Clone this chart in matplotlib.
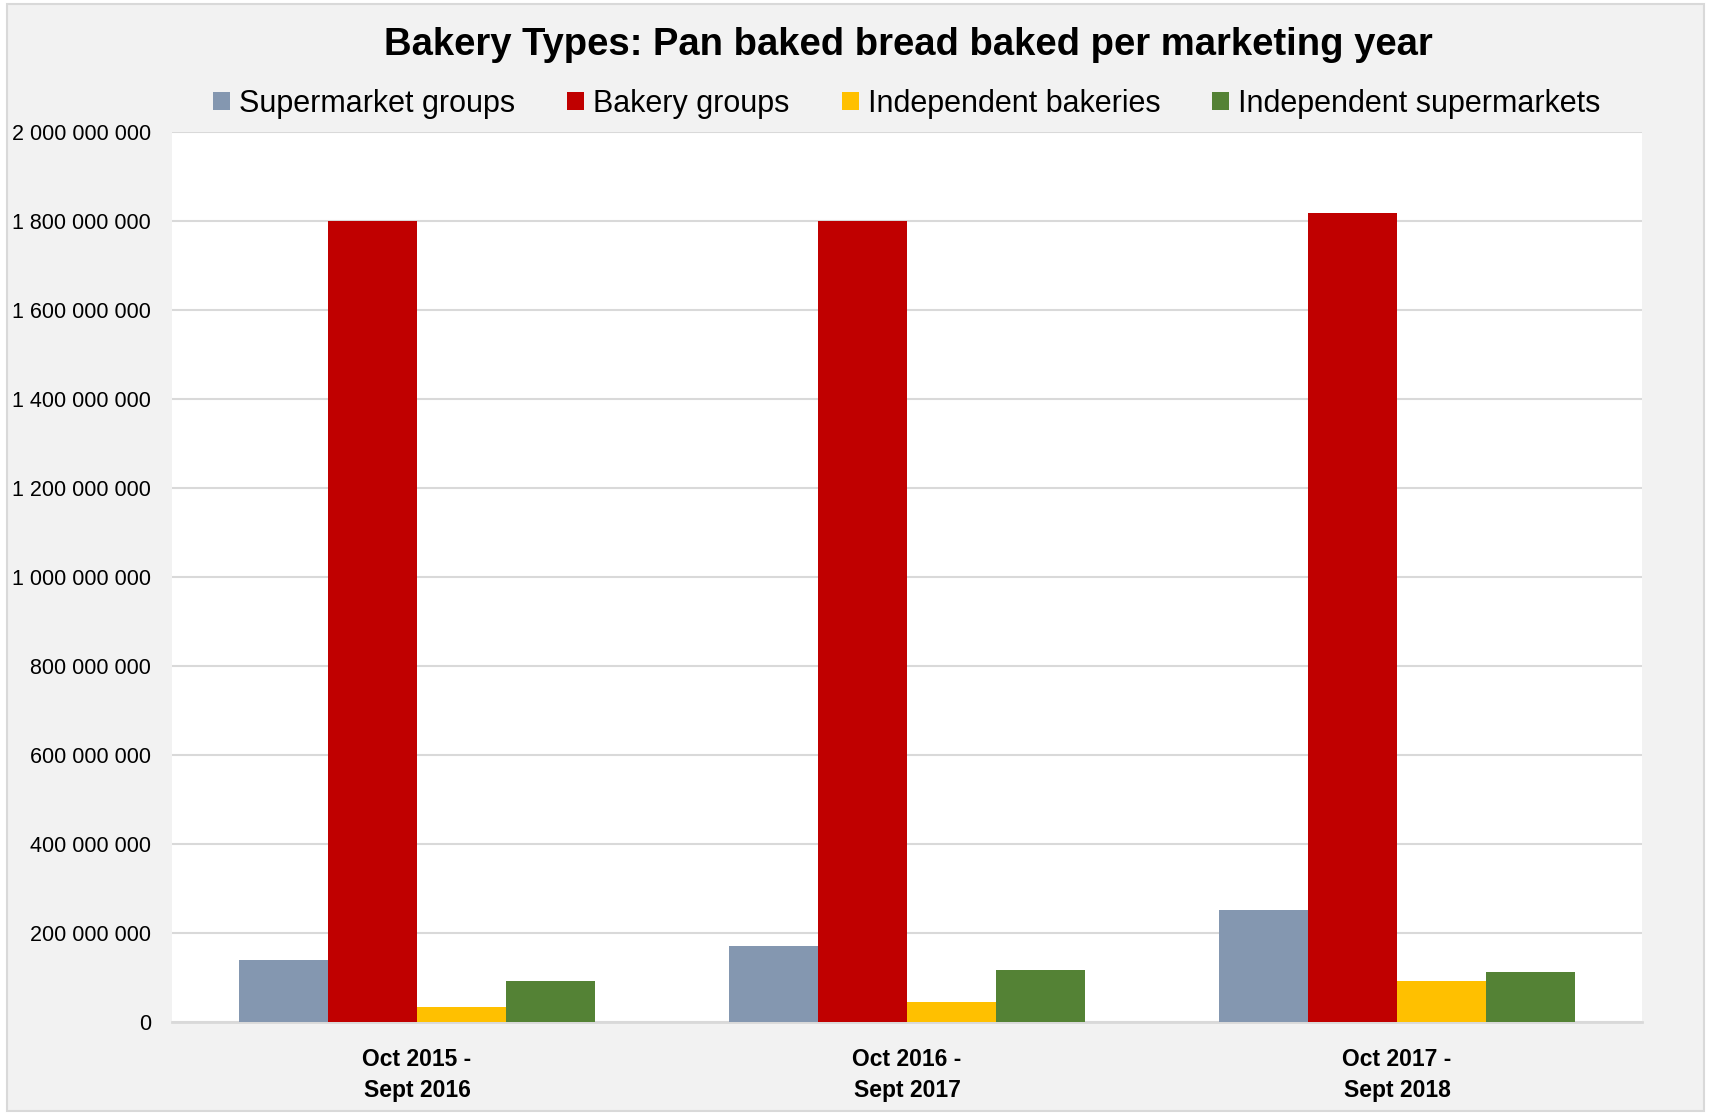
import numpy as np
import matplotlib
matplotlib.use("Agg")
import matplotlib.pyplot as plt
from matplotlib.patches import Rectangle
from matplotlib.ticker import FuncFormatter, MultipleLocator

# loaves of pan baked bread per marketing year, by bakery type
years = ["Oct 2015 -\nSept 2016", "Oct 2016 -\nSept 2017", "Oct 2017 -\nSept 2018"]
supermarket_groups = [139_000_000, 170_000_000, 252_000_000]
bakery_groups = [1_801_000_000, 1_801_000_000, 1_817_000_000]
independent_bakeries = [33_000_000, 44_000_000, 92_000_000]
independent_supermarkets = [92_000_000, 116_000_000, 112_000_000]

series_names = ["Supermarket groups", "Bakery groups", "Independent bakeries", "Independent supermarkets"]
colors = ["#8497b0", "#c00000", "#ffc000", "#548235"]

sans = ["Liberation Sans", "DejaVu Sans"]
plt.rcParams["font.family"] = sans

fig = plt.figure(figsize=(17.11, 11.15), dpi=100, facecolor="white")
# grey chart area with a thin frame
fig.patches.append(Rectangle((0.004, 0.004), 0.992, 0.992, transform=fig.transFigure,
                             facecolor="#f2f2f2", edgecolor="#d9d9d9", linewidth=1.5, zorder=-10))

ax = fig.add_axes([0.1005, 0.0834, 0.8592, 0.7982])
ax.set_facecolor("white")

x = np.arange(len(years))
w = 0.182
all_series = [supermarket_groups, bakery_groups, independent_bakeries, independent_supermarkets]
for i, (vals, name, c) in enumerate(zip(all_series, series_names, colors)):
    ax.bar(x + (i - 1.5) * w, vals, width=w, color=c, label=name, zorder=3)

ax.set_xlim(-0.5, 2.5)
ax.set_ylim(0, 2_000_000_000)
ax.yaxis.set_major_locator(MultipleLocator(200_000_000))
ax.yaxis.set_major_formatter(FuncFormatter(lambda v, p: f"{int(v):,}".replace(",", " ")))
ax.grid(axis="y", color="#d9d9d9", linewidth=1.5, zorder=0)

for s in ["top", "left", "right"]:
    ax.spines[s].set_visible(False)
ax.spines["bottom"].set_color("#d9d9d9")
ax.spines["bottom"].set_linewidth(2)

ax.set_xticks(x)
ax.set_xticklabels(years, fontweight="bold", fontsize=16.5, linespacing=1.45)
ax.tick_params(axis="x", length=0, pad=19)
ax.tick_params(axis="y", length=0, pad=15, labelsize=15.5)

fig.text(0.531, 0.960, "Bakery Types: Pan baked bread baked per marketing year",
         ha="center", va="center", fontsize=27.5, fontweight="bold")

ax.legend(loc="center", bbox_to_anchor=(0.5, 1.032), ncol=4, frameon=False,
          prop={"size": 22}, handlelength=0.55, handleheight=0.55,
          handletextpad=0.3, columnspacing=1.7)

fig.savefig("out.png", dpi=100, facecolor=fig.get_facecolor())
